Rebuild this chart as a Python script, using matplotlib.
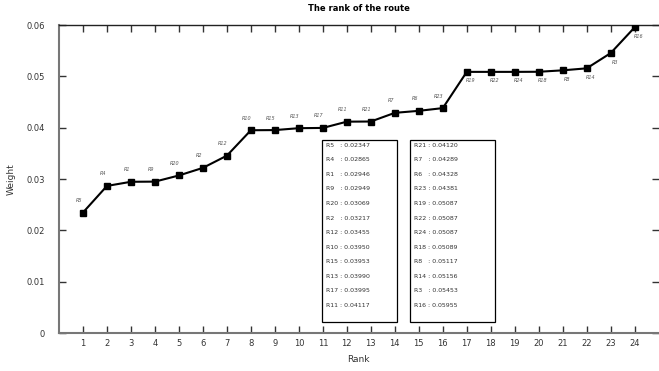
import matplotlib.pyplot as plt

routes = ["R5", "R4", "R1", "R9", "R20", "R2", "R12", "R10", "R15", "R13", "R17", "R11",
          "R21", "R7", "R6", "R23", "R19", "R22", "R24", "R18", "R8", "R14", "R3", "R16"]
weights = [0.02347, 0.02865, 0.02946, 0.02949, 0.03069, 0.03217, 0.03455, 0.03950,
           0.03953, 0.03990, 0.03995, 0.04117, 0.04120, 0.04289, 0.04328, 0.04381,
           0.05087, 0.05087, 0.05087, 0.05089, 0.05117, 0.05156, 0.05453, 0.05955]
weight_text = ["0.02347", "0.02865", "0.02946", "0.02949", "0.03069", "0.03217",
               "0.03455", "0.03950", "0.03953", "0.03990", "0.03995", "0.04117",
               "0.04120", "0.04289", "0.04328", "0.04381", "0.05087", "0.05087",
               "0.05087", "0.05089", "0.05117", "0.05156", "0.05453", "0.05955"]
ranks = list(range(1, len(weights) + 1))
y_ticks = [0, 0.01, 0.02, 0.03, 0.04, 0.05, 0.06]
y_tick_labels = ["0", "0.01", "0.02", "0.03", "0.04", "0.05", "0.06"]

fig = plt.figure(figsize=(6.59, 3.71), dpi=100)
ax = fig.add_axes((0.0895, 0.1024, 0.91, 0.8302))

ax.plot(ranks, weights, color="black", lw=1.5, marker="s", ms=4.5, zorder=3)

# point labels: above for the first 16, below-right for the rest
for r, w, name in zip(ranks, weights, routes):
    if r <= 16:
        off = (-4, 12)
    else:
        off = (4, -9)
    ax.annotate(name, (r, w), xytext=off, textcoords="offset pixels",
                ha="center", va="center", fontsize=3.5, style="italic", color="#555555")

ax.set_xlim(0, 25)
ax.set_ylim(0, 0.06)
ax.set_xticks(ranks)
ax.set_yticks(y_ticks)
ax.set_yticklabels(y_tick_labels)
ax.tick_params(axis="both", direction="in", length=5, width=1, color="#333333",
               labelsize=6, labelcolor="#333333", top=True, right=True)
ax.tick_params(axis="x", pad=4)
ax.tick_params(axis="y", pad=10)

for side in ["left", "bottom"]:
    ax.spines[side].set_color("#777777")
    ax.spines[side].set_linewidth(1.5)
ax.spines["top"].set_color("#222222")
ax.spines["top"].set_linewidth(1)
ax.spines["right"].set_visible(False)

ax.set_title("The rank of the route", fontsize=6, fontweight="bold", pad=10)
ax.set_xlabel("Rank", fontsize=6.5, color="#333333", labelpad=5)
ax.set_ylabel("Weight", fontsize=6.5, color="#333333", labelpad=8)

# two value boxes
half = len(routes) // 2
box_specs = [(322, 397, 0), (410, 495, half)]
for x0, x1, start in box_specs:
    rect = plt.Rectangle((x0 / 659, 1 - 322 / 371), (x1 - x0) / 659, 182 / 371,
                         transform=fig.transFigure, fill=False, ec="black", lw=0.9)
    fig.add_artist(rect)
    for i in range(half):
        name = routes[start + i]
        sep = "   : " if len(name) == 2 else " : "
        fig.text((x0 + 4) / 659, 1 - (145 + i * 14.6) / 371,
                 f"{name}{sep}{weight_text[start + i]}",
                 fontsize=4.5, color="#333333", va="center", ha="left")

fig.savefig("out.png", dpi=100)
